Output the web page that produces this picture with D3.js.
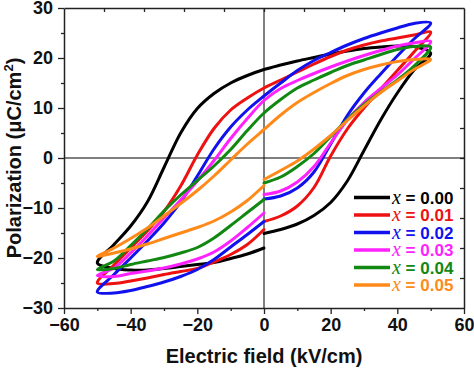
<!DOCTYPE html>
<html>
<head>
<meta charset="utf-8">
<script src="https://cdn.jsdelivr.net/npm/d3@7"></script>
<style>
  html, body { margin: 0; padding: 0; background: #fff; }
  svg { display: block; }
</style>
</head>
<body>
<svg id="chart" width="474" height="368"></svg>
<script>
// ---------- DATA ----------
const seriesNames = ["0.00", "0.01", "0.02", "0.03", "0.04", "0.05"];
const seriesColors = ["#000000", "#ee1111", "#1111ee", "#ff22ff", "#118811", "#ff8a1a"];

// electric field grids (kV/cm) for the three parts of each loop
const E_lowerRight = [0, 5, 10, 15, 20, 25, 30, 35, 40, 45, 50];
const E_upper = [50, 45, 40, 35, 30, 25, 20, 15, 10, 5, 0, -5, -10, -15, -20, -25, -30, -35, -40, -45, -50];
const E_lowerLeft = [-50, -45, -40, -35, -30, -25, -20, -15, -10, -5, 0];

// polarization (uC/cm2)
const P000_lowerRight = [-15.1, -14.3, -13.2, -11.5, -8.9, -4.6, 1.5, 7.6, 13.0, 17.6, 21.0];
const P000_upper = [21.0, 22.3, 22.4, 22.2, 21.9, 21.4, 20.8, 20.1, 19.4, 18.6, 17.7, 16.5, 15.0, 12.9, 9.9, 5.0, -1.9, -8.8, -13.6, -17.3, -21.0];
const P000_lowerLeft = [-21.0, -22.1, -22.4, -22.4, -22.1, -21.7, -21.3, -20.9, -20.1, -19.2, -18.0];

const P001_lowerRight = [-12.7, -11.6, -9.6, -5.9, 0.4, 5.8, 10.0, 13.8, 17.5, 21.2, 25.2];
const P001_upper = [25.2, 24.6, 24.0, 23.4, 22.6, 21.6, 20.3, 18.8, 17.2, 15.6, 14.0, 12.0, 9.6, 5.9, 0.6, -5.6, -10.7, -14.6, -18.0, -21.4, -25.0];
const P001_lowerLeft = [-25.0, -25.1, -24.6, -24.0, -23.3, -22.7, -22.1, -20.8, -19.3, -17.3, -14.3];

const P002_lowerRight = [-8.2, -7.6, -6.0, -2.8, 2.8, 8.5, 13.0, 16.8, 20.4, 23.8, 27.0];
const P002_upper = [27.0, 26.9, 26.0, 25.0, 23.9, 22.6, 21.1, 19.5, 17.5, 15.0, 12.4, 9.6, 6.2, 1.8, -3.6, -8.8, -13.0, -16.6, -20.0, -23.3, -26.8];
const P002_lowerLeft = [-26.8, -27.0, -26.5, -25.7, -24.8, -23.7, -22.3, -20.3, -17.8, -15.3, -12.7];

const P003_lowerRight = [-7.3, -6.6, -4.8, -1.7, 3.0, 7.6, 11.1, 13.9, 16.6, 19.8, 23.3];
const P003_upper = [23.3, 23.0, 22.4, 21.5, 20.5, 19.4, 18.2, 16.9, 15.5, 13.9, 11.5, 7.9, 3.9, -0.5, -4.6, -8.4, -12.0, -15.6, -19.0, -22.0, -23.5];
const P003_lowerLeft = [-23.5, -23.7, -23.1, -22.6, -22.0, -21.2, -20.2, -18.8, -16.6, -13.9, -11.0];

const P004_lowerRight = [-5.0, -3.8, -1.7, 0.9, 4.3, 7.7, 10.7, 13.2, 15.6, 18.4, 22.2];
const P004_upper = [22.2, 22.3, 21.7, 20.7, 19.6, 18.5, 17.1, 15.6, 14.0, 11.7, 9.0, 5.5, 1.7, -1.6, -4.5, -7.4, -10.6, -14.2, -17.5, -20.6, -22.3];
const P004_lowerLeft = [-22.3, -22.1, -21.3, -20.6, -19.9, -19.0, -17.9, -16.0, -13.5, -10.9, -8.3];

const P005_lowerRight = [-4.3, -2.5, -0.6, 1.8, 4.5, 7.5, 10.4, 13.1, 15.4, 17.7, 19.7];
const P005_upper = [19.7, 19.7, 19.3, 18.6, 17.7, 16.5, 14.9, 13.1, 11.1, 8.6, 5.7, 2.8, -0.4, -3.6, -6.5, -9.1, -11.6, -14.0, -16.1, -18.0, -19.7];
const P005_lowerLeft = [-19.7, -19.0, -18.2, -17.2, -16.1, -15.0, -13.9, -12.6, -10.8, -8.5, -5.5];

const seriesLowerRight = [P000_lowerRight, P001_lowerRight, P002_lowerRight, P003_lowerRight, P004_lowerRight, P005_lowerRight];
const seriesUpper = [P000_upper, P001_upper, P002_upper, P003_upper, P004_upper, P005_upper];
const seriesLowerLeft = [P000_lowerLeft, P001_lowerLeft, P002_lowerLeft, P003_lowerLeft, P004_lowerLeft, P005_lowerLeft];

const xTicks = [-60, -40, -20, 0, 20, 40, 60];
const xMinorTicks = [-50, -30, -10, 10, 30, 50];
const yTicks = [-30, -20, -10, 0, 10, 20, 30];
const yMinorTicks = [-25, -15, -5, 5, 15, 25];
const topTicks = [-48, -36, -24, -12, 0, 12, 24, 36, 48];
const rightTicks = [-24, -18, -12, -6, 0, 6, 12, 18, 24];

// ---------- LAYOUT ----------
const svg = d3.select("#chart");
const L = 64, R = 464, T = 8, B = 308;
const x = d3.scaleLinear().domain([-60, 60]).range([L, R]);
const y = d3.scaleLinear().domain([-30, 30]).range([B, T]);
const tickFont = "'Liberation Sans', Arial, sans-serif";

// zero lines
svg.append("line").attr("x1", x(0)).attr("x2", x(0)).attr("y1", T).attr("y2", B)
  .attr("stroke", "#000").attr("stroke-width", 1);
svg.append("line").attr("x1", L).attr("x2", R).attr("y1", y(0)).attr("y2", y(0))
  .attr("stroke", "#000").attr("stroke-width", 1);

// curves
const line = d3.line().x(d => x(d[0])).y(d => y(d[1])).curve(d3.curveCatmullRom.alpha(0.5));
const gCurves = svg.append("g");
seriesNames.forEach((name, i) => {
  const pts = [];
  E_lowerRight.forEach((e, k) => pts.push([e, seriesLowerRight[i][k]]));
  E_upper.forEach((e, k) => { if (k > 0) pts.push([e, seriesUpper[i][k]]); });
  E_lowerLeft.forEach((e, k) => { if (k > 0) pts.push([e, seriesLowerLeft[i][k]]); });
  gCurves.append("path").datum(pts).attr("d", line)
    .attr("fill", "none").attr("stroke", seriesColors[i])
    .attr("stroke-width", 3).attr("stroke-linejoin", "round").attr("stroke-linecap", "round");
});

// axes
function styleAxis(g) {
  g.selectAll("path").attr("stroke", "#222").attr("stroke-width", 1.5);
  g.selectAll("line").attr("stroke", "#222").attr("stroke-width", 1.3);
  g.selectAll("text").attr("font-family", tickFont).attr("font-weight", "bold")
    .attr("font-size", "18px").attr("fill", "#111");
}
const xAxis = svg.append("g").attr("transform", `translate(0,${B})`)
  .call(d3.axisBottom(x).tickValues(xTicks).tickSize(6).tickPadding(4).tickSizeOuter(0));
styleAxis(xAxis);
xAxis.selectAll("text").attr("dy", "0.71em");
svg.append("g").attr("transform", `translate(0,${B})`)
  .call(d3.axisBottom(x).tickValues(xMinorTicks).tickSize(3).tickFormat("").tickSizeOuter(0))
  .call(styleAxis).select("path").remove();

const yAxis = svg.append("g").attr("transform", `translate(${L},0)`)
  .call(d3.axisLeft(y).tickValues(yTicks).tickSize(6).tickPadding(5).tickSizeOuter(0));
styleAxis(yAxis);
svg.append("g").attr("transform", `translate(${L},0)`)
  .call(d3.axisLeft(y).tickValues(yMinorTicks).tickSize(3).tickFormat("").tickSizeOuter(0))
  .call(styleAxis).select("path").remove();

const topAxis = svg.append("g").attr("transform", `translate(0,${T})`)
  .call(d3.axisBottom(x).tickValues(topTicks).tickSize(4).tickFormat("").tickSizeOuter(0));
styleAxis(topAxis);
const rightAxis = svg.append("g").attr("transform", `translate(${R},0)`)
  .call(d3.axisLeft(y).tickValues(rightTicks).tickSize(4).tickFormat("").tickSizeOuter(0));
styleAxis(rightAxis);

// axis titles
svg.append("text").attr("x", (L + R) / 2).attr("y", 363).attr("text-anchor", "middle")
  .attr("font-family", tickFont).attr("font-weight", "bold").attr("font-size", "20px")
  .attr("fill", "#111").text("Electric field (kV/cm)");
const yt = svg.append("text").attr("transform", `translate(21,${(T + B) / 2}) rotate(-90)`)
  .attr("text-anchor", "middle").attr("font-family", tickFont).attr("font-weight", "bold")
  .attr("font-size", "20px").attr("fill", "#111");
yt.append("tspan").text("Polarization (\u03BCC/cm");
yt.append("tspan").attr("font-size", "13px").attr("dy", "-8").text("2");
yt.append("tspan").attr("dy", "8").text(")");

// legend
const legX1 = 354, legX2 = 390, legY0 = 197.5, legDy = 17.5;
seriesNames.forEach((name, i) => {
  const ly = legY0 + i * legDy;
  svg.append("line").attr("x1", legX1).attr("x2", legX2).attr("y1", ly).attr("y2", ly)
    .attr("stroke", seriesColors[i]).attr("stroke-width", 3.5);
  const t = svg.append("text").attr("x", legX2 + 2).attr("y", ly + 6)
    .attr("fill", seriesColors[i]);
  t.append("tspan").attr("font-family", "'Liberation Serif', 'Times New Roman', serif")
    .attr("font-style", "italic").attr("font-size", "20px").text("x");
  t.append("tspan").attr("font-family", tickFont).attr("font-weight", "bold")
    .attr("font-size", "17px").text(" = " + name);
});
</script>
</body>
</html>
